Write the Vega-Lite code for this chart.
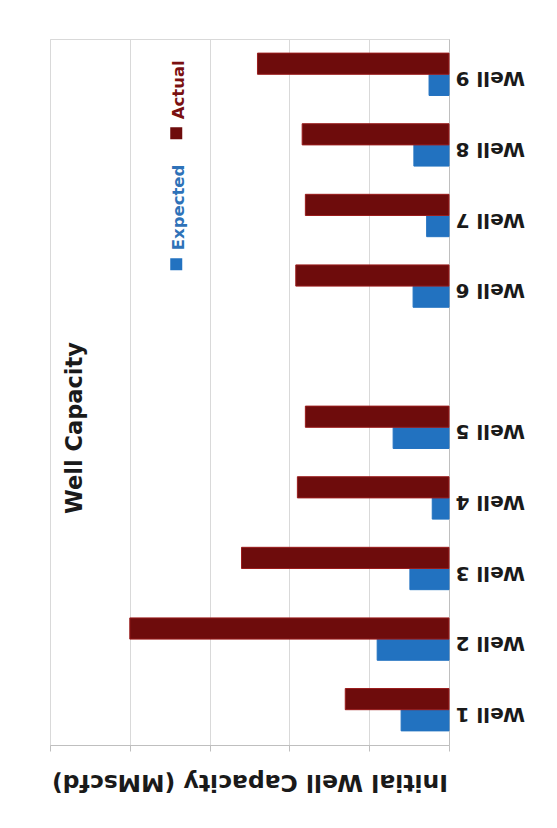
{
  "$schema": "https://vega.github.io/schema/vega-lite/v6.json",
  "description": "Initial well capacity per well, expected vs actual, drawn as a column chart turned a quarter turn.",
  "width": 399,
  "height": 706,
  "autosize": {"type": "none"},
  "padding": {"left": 50, "top": 39, "right": 108, "bottom": 83},
  "background": "white",
  "title": {
    "text": "Well Capacity",
    "orient": "left",
    "anchor": "middle",
    "frame": "group",
    "offset": -60,
    "angle": -90,
    "baseline": "bottom",
    "dx": -36,
    "font": "DejaVu Sans",
    "fontSize": 22.5,
    "fontWeight": "bold",
    "color": "#1a1a1a"
  },
  "data": {
    "values": [
      {"well": "Well 1", "series": "Expected", "capacity": 6.0},
      {"well": "Well 1", "series": "Actual", "capacity": 13.0},
      {"well": "Well 2", "series": "Expected", "capacity": 9.0},
      {"well": "Well 2", "series": "Actual", "capacity": 40.0},
      {"well": "Well 3", "series": "Expected", "capacity": 4.9},
      {"well": "Well 3", "series": "Actual", "capacity": 26.0},
      {"well": "Well 4", "series": "Expected", "capacity": 2.1},
      {"well": "Well 4", "series": "Actual", "capacity": 19.0},
      {"well": "Well 5", "series": "Expected", "capacity": 7.0},
      {"well": "Well 5", "series": "Actual", "capacity": 18.0},
      {"well": "Well 6", "series": "Expected", "capacity": 4.5},
      {"well": "Well 6", "series": "Actual", "capacity": 19.2},
      {"well": "Well 7", "series": "Expected", "capacity": 2.8},
      {"well": "Well 7", "series": "Actual", "capacity": 18.0},
      {"well": "Well 8", "series": "Expected", "capacity": 4.4},
      {"well": "Well 8", "series": "Actual", "capacity": 18.4},
      {"well": "Well 9", "series": "Expected", "capacity": 2.5},
      {"well": "Well 9", "series": "Actual", "capacity": 24.0}
    ]
  },
  "mark": {"type": "bar", "strokeWidth": 1},
  "encoding": {
    "y": {
      "field": "well",
      "type": "nominal",
      "scale": {
        "domain": ["Well 9", "Well 8", "Well 7", "Well 6", " ", "Well 5", "Well 4", "Well 3", "Well 2", "Well 1"],
        "paddingInner": 0.4,
        "paddingOuter": 0.2
      },
      "axis": {
        "orient": "right",
        "title": null,
        "labelAngle": 180,
        "labelAlign": "right",
        "labelBaseline": "middle",
        "labelFont": "DejaVu Sans",
        "labelFontSize": 20,
        "labelFontWeight": "bold",
        "labelColor": "#1a1a1a",
        "labelPadding": 6,
        "labelOffset": 4,
        "ticks": false,
        "grid": false,
        "domainColor": "#bfbfbf",
        "domainWidth": 1
      }
    },
    "x": {
      "field": "capacity",
      "type": "quantitative",
      "scale": {"domain": [0, 50], "reverse": true, "nice": false},
      "axis": {
        "values": [0, 10, 20, 30, 40, 50],
        "labels": false,
        "grid": true,
        "gridColor": "#d9d9d9",
        "gridWidth": 1,
        "domainColor": "#bfbfbf",
        "tickColor": "#bfbfbf",
        "tickSize": 6,
        "title": "Initial Well Capacity (MMscfd)",
        "titleAngle": 180,
        "titleBaseline": "bottom",
        "titleFont": "DejaVu Sans",
        "titleFontSize": 23.5,
        "titleFontWeight": "bold",
        "titleColor": "#1a1a1a",
        "titlePadding": 18
      }
    },
    "yOffset": {
      "field": "series",
      "type": "nominal",
      "scale": {"domain": ["Actual", "Expected"]}
    },
    "color": {
      "field": "series",
      "type": "nominal",
      "scale": {"domain": ["Actual", "Expected"], "range": ["#6e0c0c", "#2272c0"]},
      "legend": {
        "title": null,
        "orient": "none",
        "legendX": 118,
        "legendY": 86,
        "direction": "vertical",
        "padding": 0,
        "symbolType": "square",
        "symbolSize": 144,
        "symbolStrokeWidth": 0,
        "labelFont": "DejaVu Sans",
        "labelFontSize": 16.5,
        "labelFontWeight": "bold",
        "labelOffset": 0,
        "rowPadding": 24,
        "encoding": {
          "labels": {
            "angle": {"value": -90},
            "align": {"value": "left"},
            "baseline": {"value": "middle"},
            "dx": {"value": 14},
            "dy": {"value": -6},
            "fill": {"value": {"expr": "datum.value === 'Expected' ? '#2e72b8' : '#7a1010'"}}
          }
        }
      }
    },
    "stroke": {
      "field": "series",
      "type": "nominal",
      "scale": {"domain": ["Actual", "Expected"], "range": ["#9a1c1c", "#2272c0"]},
      "legend": null
    }
  },
  "config": {"view": {"stroke": "#d9d9d9"}}
}
